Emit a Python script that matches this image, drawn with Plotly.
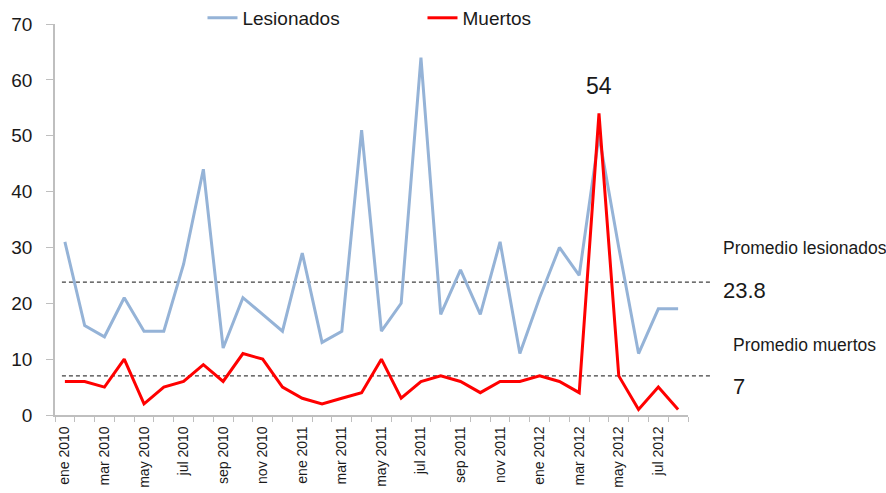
import plotly.graph_objects as go

# Monthly series, ene 2010 .. ago 2012
meses = ["ene 2010", "feb 2010", "mar 2010", "abr 2010", "may 2010", "jun 2010",
         "jul 2010", "ago 2010", "sep 2010", "oct 2010", "nov 2010", "dic 2010",
         "ene 2011", "feb 2011", "mar 2011", "abr 2011", "may 2011", "jun 2011",
         "jul 2011", "ago 2011", "sep 2011", "oct 2011", "nov 2011", "dic 2011",
         "ene 2012", "feb 2012", "mar 2012", "abr 2012", "may 2012", "jun 2012",
         "jul 2012", "ago 2012"]
lesionados = [31, 16, 14, 21, 15, 15, 27, 44, 12, 21, 18, 15,
              29, 13, 15, 51, 15, 20, 64, 18, 26, 18, 31, 11,
              21, 30, 25, 50, 30, 11, 19, 19]
muertos = [6, 6, 5, 10, 2, 5, 6, 9, 6, 11, 10, 5,
           3, 2, 3, 4, 10, 3, 6, 7, 6, 4, 6, 6,
           7, 6, 4, 54, 7, 1, 5, 1]
promedio_lesionados = 23.8
promedio_muertos = 7

FONT = "Liberation Sans, Arial, sans-serif"
TXT = "#1a1a1a"
AXIS = "#BFBFBF"
BLUE = "#95B3D7"
RED = "#FF0000"

x = list(range(len(meses)))
tick_idx = x[::2]
x_range = [-0.5, len(meses) - 0.5]


def to_paper(i):
    """Category position -> fraction of the x axis width."""
    return (i - x_range[0]) / (x_range[1] - x_range[0])


fig = go.Figure()
fig.add_trace(go.Scatter(x=x, y=lesionados, mode="lines", name="Lesionados",
                         line=dict(color=BLUE, width=3)))
fig.add_trace(go.Scatter(x=x, y=muertos, mode="lines", name="Muertos",
                         line=dict(color=RED, width=3)))

# dashed average lines, reaching a little past the last month
for val in (promedio_lesionados, promedio_muertos):
    fig.add_shape(type="line", xref="paper", yref="y",
                  x0=to_paper(-0.15), x1=to_paper(32.7), y0=val, y1=val,
                  line=dict(color="#404040", width=1.3, dash="4px,3px"), layer="below")

pico = max(range(len(muertos)), key=lambda i: muertos[i])
fig.add_annotation(x=pico, y=muertos[pico], text=str(muertos[pico]), showarrow=False,
                   yanchor="bottom", yshift=12, font=dict(size=23, color=TXT, family=FONT))

fig.add_annotation(xref="paper", yref="y", x=1.052, y=promedio_lesionados, xanchor="left",
                   yanchor="middle", yshift=34, text="Promedio lesionados", showarrow=False,
                   font=dict(size=17.5, color=TXT, family=FONT))
fig.add_annotation(xref="paper", yref="y", x=1.052, y=promedio_lesionados, xanchor="left",
                   yanchor="middle", yshift=-8, text=f"{promedio_lesionados:g}", showarrow=False,
                   font=dict(size=22, color=TXT, family=FONT))
fig.add_annotation(xref="paper", yref="y", x=1.068, y=promedio_muertos, xanchor="left",
                   yanchor="middle", yshift=31, text="Promedio muertos", showarrow=False,
                   font=dict(size=17.5, color=TXT, family=FONT))
fig.add_annotation(xref="paper", yref="y", x=1.068, y=promedio_muertos, xanchor="left",
                   yanchor="middle", yshift=-11, text=f"{promedio_muertos:g}", showarrow=False,
                   font=dict(size=22, color=TXT, family=FONT))

fig.update_layout(
    width=886, height=493,
    margin=dict(l=55, r=198, t=24, b=78, autoexpand=False),
    paper_bgcolor="white", plot_bgcolor="white",
    font=dict(family=FONT, color=TXT),
    showlegend=True,
    legend=dict(orientation="h", x=0.233, y=1.0155, xanchor="left", yanchor="middle",
                font=dict(size=19, color=TXT, family=FONT),
                entrywidth=175, entrywidthmode="pixels", bgcolor="rgba(0,0,0,0)"),
    xaxis=dict(range=x_range, showgrid=False, zeroline=False, automargin=False,
               showline=True, linecolor=AXIS, linewidth=1.5,
               tickmode="array", tickvals=tick_idx, ticktext=[meses[i] for i in tick_idx],
               ticks="", tickangle=-90, ticklabelstandoff=4,
               tickfont=dict(size=14, color=TXT, family=FONT),
               minor=dict(tickvals=[i - 0.5 for i in range(len(meses) + 1)],
                          ticks="outside", ticklen=5, tickcolor=AXIS, tickwidth=1.2)),
    yaxis=dict(range=[0, 70], dtick=10, showgrid=False, zeroline=False, automargin=False,
               showline=True, linecolor=AXIS, linewidth=1.5,
               ticks="outside", ticklen=7, tickcolor=AXIS, tickwidth=1.2,
               ticklabelstandoff=10,
               tickfont=dict(size=19, color=TXT, family=FONT)),
)

fig.write_html("out.html")
